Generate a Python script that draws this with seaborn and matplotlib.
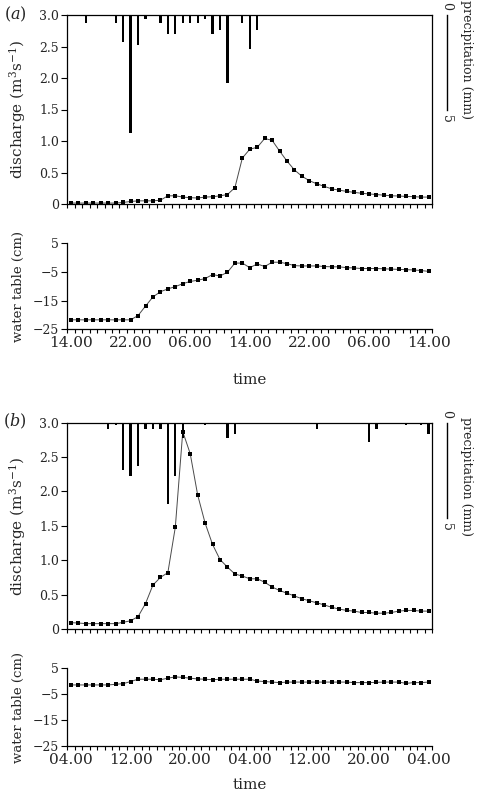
import numpy as np
import pandas as pd
import matplotlib
matplotlib.use("Agg")
import matplotlib.pyplot as plt
import seaborn as sns

# ---------------- data ----------------
hours = np.arange(49)
labels_a = ["14.00", "22.00", "06.00", "14.00", "22.00", "06.00", "14.00"]
labels_b = ["04.00", "12.00", "20.00", "04.00", "12.00", "20.00", "04.00"]

discharge_a = [0.015, 0.015, 0.015, 0.015, 0.015, 0.015, 0.015, 0.025, 0.04, 0.05,
               0.05, 0.05, 0.06, 0.13, 0.13, 0.11, 0.10, 0.095, 0.11, 0.115,
               0.13, 0.15, 0.26, 0.73, 0.87, 0.90, 1.04, 1.01, 0.84, 0.68,
               0.54, 0.44, 0.37, 0.32, 0.28, 0.24, 0.22, 0.20, 0.185, 0.17,
               0.16, 0.15, 0.14, 0.13, 0.127, 0.12, 0.116, 0.11, 0.11]
precip_a = [0, 0, 0.4, 0, 0, 0, 0.4, 1.4, 6.2, 1.6,
            0.2, 0, 0.4, 1.0, 1.0, 0.4, 0.4, 0.4, 0.2, 1.0,
            0.8, 3.6, 0, 0.4, 1.8, 0.8, 0, 0, 0, 0,
            0, 0, 0, 0, 0, 0, 0, 0, 0, 0,
            0, 0, 0, 0, 0, 0, 0, 0, 0]
watertable_a = [-21.7, -21.7, -21.7, -21.7, -21.7, -21.7, -21.7, -21.7, -21.7, -20.2,
                -16.9, -13.7, -11.9, -10.9, -10.1, -9.1, -8.3, -7.9, -7.3, -5.9,
                -6.4, -5.1, -1.9, -1.9, -3.5, -2.2, -3.1, -1.6, -1.6, -2.1,
                -2.8, -2.9, -2.9, -2.9, -3.1, -3.2, -3.2, -3.5, -3.6, -3.8,
                -3.8, -3.8, -3.9, -4.0, -4.1, -4.2, -4.3, -4.5, -4.8]

discharge_b = [0.092, 0.087, 0.078, 0.078, 0.078, 0.078, 0.078, 0.097, 0.12, 0.18,
               0.37, 0.64, 0.75, 0.82, 1.48, 2.87, 2.55, 1.95, 1.54, 1.23,
               1.01, 0.90, 0.80, 0.77, 0.73, 0.73, 0.68, 0.61, 0.56, 0.52,
               0.48, 0.44, 0.41, 0.38, 0.35, 0.315, 0.29, 0.27, 0.26, 0.24,
               0.24, 0.23, 0.23, 0.24, 0.26, 0.27, 0.27, 0.26, 0.26]
precip_b = [0, 0, 0, 0, 0, 0.35, 0.1, 2.5, 2.8, 2.3,
            0.35, 0.35, 0.35, 4.3, 2.8, 0.8, 0, 0, 0.1, 0,
            0, 0.8, 0.6, 0, 0, 0, 0, 0, 0, 0,
            0, 0, 0, 0.35, 0, 0, 0, 0, 0, 0,
            1.0, 0.35, 0, 0, 0, 0.1, 0, 0.1, 0.6]
watertable_b = [-1.4, -1.4, -1.4, -1.4, -1.4, -1.4, -1.15, -0.9, -0.1, 0.8,
                0.8, 0.8, 0.6, 1.2, 1.7, 1.5, 1.2, 0.9, 0.8, 0.6,
                0.8, 0.8, 0.8, 0.8, 0.8, 0.1, -0.1, -0.3, -0.5, -0.3,
                -0.3, -0.3, -0.3, -0.3, -0.3, -0.3, -0.3, -0.3, -0.5, -0.5,
                -0.5, -0.4, -0.3, -0.3, -0.3, -0.8, -0.5, -0.5, -0.3]

dis_ticks = [0, 0.5, 1.0, 1.5, 2.0, 2.5, 3.0]
dis_ticklabels = ["0", "0.5", "1.0", "1.5", "2.0", "2.5", "3.0"]
wt_ticks = [5, -5, -15, -25]

# ---------------- style ----------------
sns.set_theme(style="ticks")
plt.rcParams["font.family"] = ["DejaVu Serif"]
plt.rcParams["mathtext.fontset"] = "dejavuserif"
plt.rcParams["axes.linewidth"] = 0.9
plt.rcParams["axes.edgecolor"] = "black"

W, H = 478, 800
fig = plt.figure(figsize=(W / 100, H / 100), dpi=100)


def ax_at(l, t, r, b):
    return fig.add_axes([l / W, 1 - b / H, (r - l) / W, (b - t) / H])


L, R = 67.3, 432.3
TICK_FS = 9
XT_FS = 11
LINE_C = "#4a4a4a"
MS = 2.5

panels = [
    dict(name="a", dis=(15, 204), wt=(243.3, 329.3), q=discharge_a, p=precip_a,
         w=watertable_a, xl=labels_a, pmax=9.95, plab=60, time_y=380),
    dict(name="b", dis=(422.7, 629), wt=(668.3, 746.3), q=discharge_b, p=precip_b,
         w=watertable_b, xl=labels_b, pmax=10.85, plab=477, time_y=785),
]

minor_x = np.arange(49 + 1) - 0.5

for pn in panels:
    t, b = pn["dis"]
    ax = ax_at(L, t, R, b)
    df = pd.DataFrame({"hour": hours, "discharge": pn["q"], "precip": pn["p"]})
    sns.lineplot(data=df, x="hour", y="discharge", ax=ax, color=LINE_C, lw=0.7,
                 marker="s", markersize=MS, markeredgecolor="black",
                 markerfacecolor="black", markeredgewidth=0)
    ax.set_xlim(-0.5, 48.5)
    ax.set_ylim(0, 3)
    ax.set_yticks(dis_ticks)
    ax.set_yticklabels(dis_ticklabels, fontsize=TICK_FS)
    ax.set_xticks([])
    ax.set_xticks(minor_x, minor=True)
    ax.tick_params(axis="x", which="minor", direction="out", length=3, width=0.8,
                   color="black")
    ax.tick_params(axis="y", direction="out", length=4, width=0.8, pad=2,
                   color="black")
    ax.set_xlabel("")
    ax.set_ylabel("")
    for s in ax.spines.values():
        s.set_visible(True)
        s.set_linewidth(0.9)

    ax2 = ax.twinx()
    sns.barplot(data=df, x="hour", y="precip", ax=ax2, color="black", width=0.3,
                native_scale=True, saturation=1, linewidth=0, errorbar=None)
    ax2.set_xlim(-0.5, 48.5)
    ax2.set_ylim(pn["pmax"], 0)
    ax2.set_yticks([])
    ax2.set_xticks([])
    ax2.set_xlabel("")
    ax2.set_ylabel("")
    for k in ["left", "top", "bottom"]:
        ax2.spines[k].set_visible(False)
    ax2.spines["right"].set_bounds(0, 5)
    ax2.spines["right"].set_position(("outward", 10.4))
    ax2.spines["right"].set_linewidth(1.0)
    tr = ax2.get_yaxis_transform()
    ax2.annotate("0", xy=(1, 0), xycoords=tr, xytext=(10.4, 6.5),
                 textcoords="offset points", rotation=-90, ha="center",
                 va="center", fontsize=TICK_FS, annotation_clip=False)
    ax2.annotate("5", xy=(1, 5), xycoords=tr, xytext=(10.4, -6.5),
                 textcoords="offset points", rotation=-90, ha="center",
                 va="center", fontsize=TICK_FS, annotation_clip=False)
    fig.text(467 / W, 1 - pn["plab"] / H, "precipitation (mm)", rotation=-90,
             ha="center", va="center", fontsize=9)
    fig.text(18 / W, 1 - (t + b) / 2 / H, "discharge (m$^3$s$^{-1}$)", rotation=90,
             ha="center", va="center", fontsize=11)
    fig.text(15 / W, 1 - (t - 1) / H, "($\\it{%s}$)" % pn["name"],
             ha="center", va="center", fontsize=11.5)

    # water table
    t2, b2 = pn["wt"]
    axw = ax_at(L, t2, R, b2)
    dfw = pd.DataFrame({"hour": hours, "wt": pn["w"]})
    sns.lineplot(data=dfw, x="hour", y="wt", ax=axw, color=LINE_C, lw=0.7,
                 marker="s", markersize=MS, markeredgecolor="black",
                 markerfacecolor="black", markeredgewidth=0)
    axw.set_xlim(-0.5, 48.5)
    axw.set_ylim(-25, 5)
    axw.set_yticks(wt_ticks)
    axw.set_yticklabels(["5", "\u22125", "\u221215", "\u221225"], fontsize=TICK_FS)
    axw.set_xticks(np.arange(0, 49, 8))
    axw.set_xticklabels(pn["xl"], fontsize=XT_FS)
    axw.set_xticks(minor_x, minor=True)
    axw.tick_params(axis="x", which="major", length=0, pad=4.5)
    axw.tick_params(axis="x", which="minor", direction="out", length=3, width=0.8,
                    color="black")
    axw.tick_params(axis="y", direction="out", length=4, width=0.8, pad=2,
                    color="black")
    axw.set_xlabel("")
    axw.set_ylabel("")
    axw.spines["top"].set_visible(False)
    axw.spines["right"].set_visible(False)
    fig.text(18 / W, 1 - (t2 + b2) / 2 / H, "water table (cm)", rotation=90,
             ha="center", va="center", fontsize=9.5)
    fig.text(250 / W, 1 - pn["time_y"] / H, "time", ha="center", va="center",
             fontsize=11)

fig.savefig("out.png", dpi=100)
